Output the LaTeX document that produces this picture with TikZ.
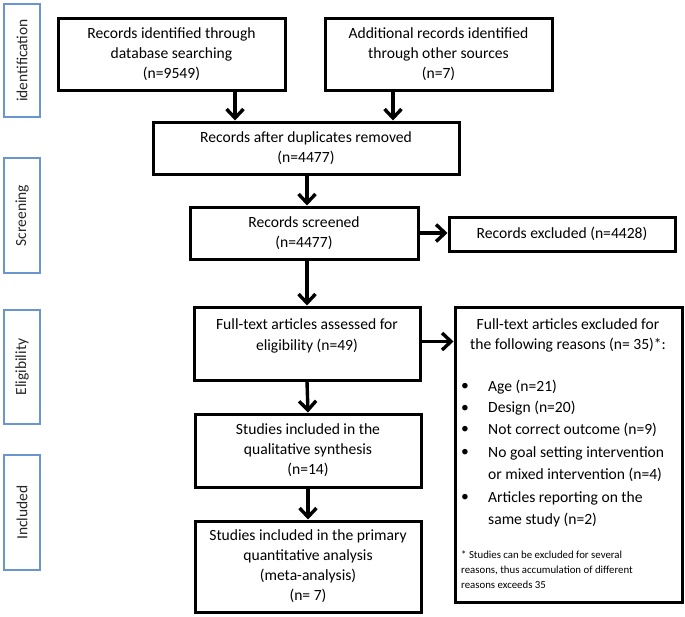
\documentclass[tikz,border=0pt]{standalone}
\usepackage{fontspec}
\setmainfont{Carlito}
\usetikzlibrary{arrows.meta,calc}
\definecolor{sideblue}{HTML}{6A96CF}
\begin{document}
\begin{tikzpicture}[x=1pt,y=-1pt,
  box/.style={draw=black, line width=3pt, align=center, inner sep=0pt,
    font=\fontsize{15.6}{20}\selectfont},
  sidebox/.style={draw=sideblue, line width=2.2pt, minimum width=36pt, inner sep=0pt},
  sidetext/.style={rotate=90, font=\fontsize{15.5}{18}\selectfont, text=black!85},
  arr/.style={line width=3.4pt, -{Straight Barb[length=9pt,width=17pt,line width=3.4pt]}},
  txt/.style={inner sep=0pt, font=\fontsize{15.6}{21.5}\selectfont},
  small/.style={inner sep=0pt, align=left, font=\fontsize{10.8}{15}\selectfont}]
\useasboundingbox (0,0) rectangle (685,616);
% side labels
\node[sidebox, minimum height=113pt] (s1) at (22,60.5) {};
\node[sidetext] (t1) at (s1.center) {identification};
\node[sidebox, minimum height=115pt] (s2) at (22,215.5) {};
\node[sidetext] (t2) at (s2.center) {Screening};
\node[sidebox, minimum height=114pt] (s3) at (22,367) {};
\node[sidetext] (t3) at (s3.center) {Eligibility};
\node[sidebox, minimum height=115pt] (s4) at (22,512.5) {};
\node[sidetext] (t4) at (s4.center) {Included};
% main boxes
\node[box, minimum width=227pt, minimum height=72pt] (A) at (171.5,54)
  {Records identified through\\database searching\\(n=9549)};
\node[box, minimum width=227pt, minimum height=72pt] (B) at (438.5,54)
  {Additional records identified\\through other sources\\(n=7)};
\node[box, minimum width=306pt, minimum height=52pt] (C) at (306,148)
  {Records after duplicates removed\\(n=4477)};
\node[box, minimum width=228pt, minimum height=52pt] (D) at (304,233)
  {Records screened\\(n=4477)};
\node[box, minimum width=226pt, minimum height=34pt] (E) at (562,234)
  {Records excluded (n=4428)};
\node[box, minimum width=226pt, minimum height=73pt] (F) at (307,343.5) {};
\node[inner sep=0pt, align=center, font=\fontsize{15.6}{21}\selectfont] (Ft) at (307,336)
  {Full-text articles assessed for\\eligibility (n=49)};
\node[box, minimum width=227pt, minimum height=295pt] (G) at (568.5,454.5) {};
\node[box, minimum width=226pt, minimum height=73pt] (H) at (308,450.5)
  {Studies included in the\\qualitative synthesis\\(n=14)};
\node[box, minimum width=226pt, minimum height=91pt] (I) at (308,566.5)
  {Studies included in the primary\\quantitative analysis\\(meta-analysis)\\(n= 7)};
% contents of G
\node[txt, align=center, font=\fontsize{15.6}{20}\selectfont] (gt) at (568,335)
  {Full-text articles excluded for\\the following reasons (n= 35)*:};
\node[txt] (b1) at (465,387) {•};
\node[txt, anchor=west] (i1) at (488,387) {Age (n=21)};
\node[txt] (b2) at (465,408.5) {•};
\node[txt, anchor=west] (i2) at (488,408.5) {Design (n=20)};
\node[txt] (b3) at (465,430) {•};
\node[txt, anchor=west] (i3) at (488,430) {Not correct outcome (n=9)};
\node[txt] (b4) at (465,453) {•};
\node[txt, anchor=west] (i4) at (488,453) {No goal setting intervention};
\node[txt, anchor=west] (i4b) at (488,475) {or mixed intervention (n=4)};
\node[txt] (b5) at (465,498) {•};
\node[txt, anchor=west] (i5) at (488,498) {Articles reporting on the};
\node[txt, anchor=west] (i5b) at (488,520) {same study (n=2)};
\node[small, anchor=west] (fn) at (461,570)
  {* Studies can be excluded for several\\reasons, thus accumulation of different\\reasons exceeds 35};
% arrows
\coordinate (xa) at (235,0);
\coordinate (xb) at (393,0);
\coordinate (xc) at (307,0);
\draw[arr] (A.south -| xa) -- (C.north -| xa);
\draw[arr] (B.south -| xb) -- (C.north -| xb);
\draw[arr] (C.south -| xc) -- (D.north -| xc);
\draw[arr] (D.south -| xc) -- (F.north -| xc);
\draw[arr] (F.south) -- (H.north);
\draw[arr] (H.south) -- (I.north);
\draw[arr] (D.east) -- (D.east -| E.west);
\draw[arr] ($(F.east)+(0,-2)$) -- ($(F.east -| G.west)+(0,-2)$);
\end{tikzpicture}
\end{document}
